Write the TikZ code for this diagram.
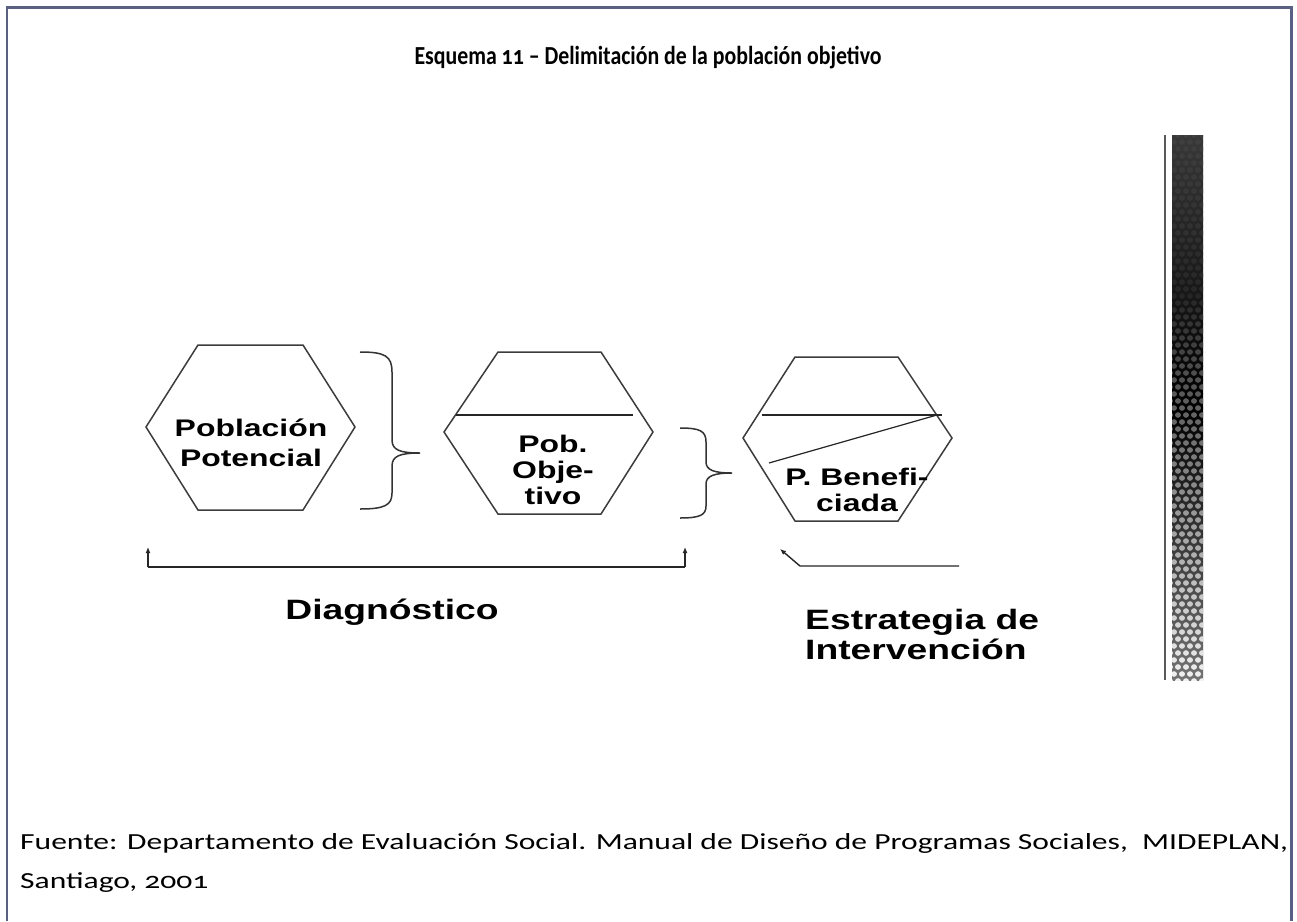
\documentclass[tikz,border=0pt]{standalone}
\usepackage{fontspec}
\setmainfont{Carlito}[Numbers=OldStyle]
\newfontfamily\arialf{Liberation Sans}
\usepackage{graphicx}
\usetikzlibrary{arrows.meta}
\definecolor{framec}{HTML}{5A6084}
\definecolor{hexline}{HTML}{3C3C3C}
\newcommand\sx[1]{\scalebox{1.33}[1]{#1}}
\newsavebox\flineA
\newsavebox\flineB
\newsavebox\tline
\begin{document}
\sbox\flineA{\fontsize{23}{28}\selectfont Fuente: Departamento de Evaluación Social. Manual de Diseño de Programas Sociales,\ \ MIDEPLAN,}%
\sbox\flineB{\fontsize{23}{28}\selectfont Santiago, 2001}%
\sbox\tline{\bfseries\fontsize{26}{30}\selectfont Esquema 11 – Delimitación de la población objetivo}%
\begin{tikzpicture}[x=1pt,y=-1pt,
  hexshape/.style={draw=hexline,line width=1.5pt,line join=miter},
  inline/.style={draw=black!85,line width=1.2pt},
  bracec/.style={draw=black!80,line width=1.5pt},
  conn/.style={draw=black!85,line width=1.4pt,-{Latex[length=6pt,width=5pt]}},
  dtext/.style={font=\arialf\bfseries\fontsize{24}{26}\selectfont,align=center,inner sep=0pt},
  btext/.style={font=\arialf\bfseries\fontsize{28}{30}\selectfont,inner sep=0pt}]
\useasboundingbox (0,0) rectangle (1297,921);
\fill[white] (0,0) rectangle (1297,921);
\pgfmathsetmacro{\fsc}{1268/\wd\flineA}
\pgfmathsetmacro{\tsc}{467/\wd\tline}
% frame
\draw[framec,line width=2.5pt] (7,921) -- (7,7.5) -- (1291.5,7.5) -- (1291.5,921);
% title
\node[inner sep=0pt,anchor=base] (title) at (648,64) {\scalebox{\tsc}[1]{\usebox\tline}};
% hexagon 1
\draw[hexshape] (198,345) -- (303,345) -- (355,427) -- (303,510) -- (198,510) -- (146,427) -- cycle;
\node[dtext] (pp) at (251,443) {\sx{Población}\\[4pt]\sx{Potencial}};
% brace 1
\draw[bracec] (360,352) .. controls (385,352) and (392,356) .. (392,372) -- (392,440)
  .. controls (392,450) and (400,453) .. (420,453)
  .. controls (400,453) and (392,456) .. (392,466) -- (392,493)
  .. controls (392,505) and (385,509) .. (360,509);
% hexagon 2
\draw[hexshape] (498,352) -- (601,352) -- (653,432) -- (601,514) -- (498,514) -- (444,432) -- cycle;
\draw[inline] (456,415) -- (633,415);
\node[dtext] (po) at (553,470) {\sx{Pob.}\\\sx{Obje-}\\\sx{tivo}};
% brace 2
\draw[bracec] (680,428) .. controls (700,428) and (706,431) .. (706,442) -- (706,462)
  .. controls (706,470) and (714,473) .. (732,473)
  .. controls (714,473) and (706,476) .. (706,484) -- (706,506)
  .. controls (706,515) and (700,518) .. (680,518);
% hexagon 3
\draw[hexshape] (795,357) -- (898,357) -- (952,438) -- (898,521) -- (795,521) -- (743,438) -- cycle;
\draw[inline] (762,415) -- (942,415);
\draw[inline] (769,463) -- (937,415);
\node[dtext] (pb) at (857,490) {\sx{P. Benefi-}\\\sx{ciada}};
% diagnostico bracket
\coordinate (dl) at (148,567);
\coordinate (dr) at (685,567);
\coordinate (dlt) at (148,547);
\coordinate (drt) at (685,547);
\draw[conn] (dl) -- (dlt);
\draw[conn] (dr) -- (drt);
\draw[black!85,line width=1.4pt] (dl) -- (dr);
\node[btext] (diag) at (392,612) {\sx{Diagnóstico}};
% estrategia arrow
\coordinate (es) at (959,566);
\coordinate (ek) at (800,566);
\coordinate (et) at (780,549);
\draw[conn] (es) -- (ek) -- (et);
\node[btext,anchor=north west,align=left] (estr) at (805,609) {\sx{Estrategia de}\\\sx{Intervención}};
% decorative band
\draw[gray!70!black,line width=2pt] (1164.5,135) -- (1164.5,680);
\shade[top color=black!78,bottom color=black!55,middle color=black] (1172,135) rectangle (1203,680);
\begin{scope}
\clip (1172,135) rectangle (1203,680);
\foreach \j in {0,...,78}{
  \pgfmathsetmacro{\f}{\j/78}
  \pgfmathsetmacro{\w}{\f<0.3 ? 25-35*\f : 15+80*(\f-0.3)/0.7}
  \pgfmathsetmacro{\xo}{mod(\j,2)*4}
  \foreach \i in {0,...,4}{
    \fill[white!\w!black] (1170+\xo+8*\i,135+7*\j) ellipse (3pt and 2.8pt);
  }
}
\end{scope}
% footer
\node[inner sep=0pt,anchor=base west] (src1) at (20,849) {\scalebox{\fsc}[1]{\usebox\flineA}};
\node[inner sep=0pt,anchor=base west] (src2) at (20,888) {\scalebox{\fsc}[1]{\usebox\flineB}};
\end{tikzpicture}
\end{document}
